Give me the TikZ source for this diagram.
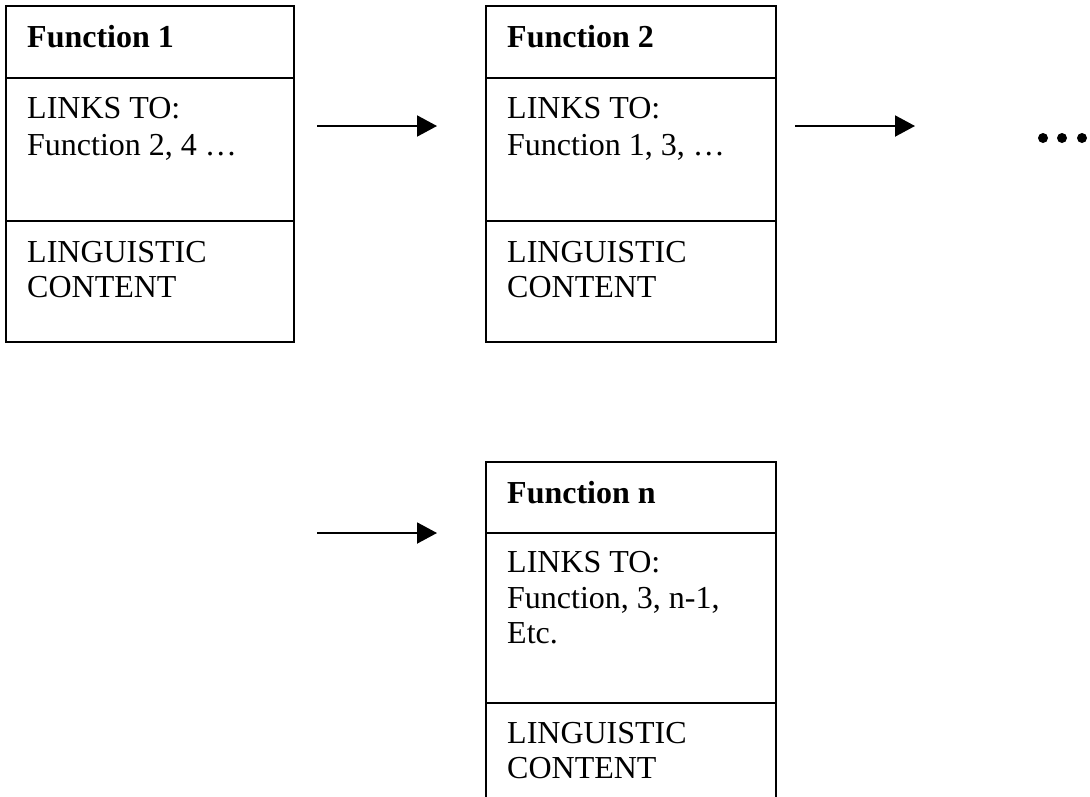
\documentclass[tikz,border=0pt]{standalone}
\usepackage{fontspec}
\setmainfont{Liberation Serif}
\usetikzlibrary{arrows.meta}
\tikzset{
  cell/.style={draw=black,line width=2pt},
  txt/.style={anchor=base west,inner sep=0pt,align=left,font=\fontsize{32}{37}\selectfont},
  ttl/.style={anchor=base west,inner sep=0pt,font=\fontsize{32}{37}\selectfont\bfseries},
  arr/.style={line width=2pt,-{Triangle[length=20pt,width=21pt]}},
  dot/.style={circle,fill=black,inner sep=0pt,minimum size=10pt}
}
\begin{document}
\begin{tikzpicture}[x=1pt,y=-1pt]
\useasboundingbox (0,0) rectangle (1090,796);
\clip (0,0) rectangle (1090,796);
% Box 1
\draw[cell] (6,6) rectangle (294,342);
\draw[cell] (6,78) -- (294,78);
\draw[cell] (6,221) -- (294,221);
\node[ttl] (t1) at (27,47) {Function 1};
\node[txt] (l1a) at (27,118) {LINKS TO:};
\node[txt] (l1b) at (27,155) {Function 2, 4 …};
\node[txt] (c1a) at (27,262) {LINGUISTIC};
\node[txt] (c1b) at (27,297) {CONTENT};
% Box 2
\draw[cell] (486,6) rectangle (776,342);
\draw[cell] (486,78) -- (776,78);
\draw[cell] (486,221) -- (776,221);
\node[ttl] (t2) at (507,47) {Function 2};
\node[txt] (l2a) at (507,118) {LINKS TO:};
\node[txt] (l2b) at (507,155) {Function 1, 3, …};
\node[txt] (c2a) at (507,262) {LINGUISTIC};
\node[txt] (c2b) at (507,297) {CONTENT};
% Box n
\draw[cell] (486,810) -- (486,462) -- (776,462) -- (776,810);
\draw[cell] (486,533) -- (776,533);
\draw[cell] (486,703) -- (776,703);
\node[ttl] (tn) at (507,503) {Function n};
\node[txt] (lna) at (507,572) {LINKS TO:};
\node[txt] (lnb) at (507,608) {Function, 3, n-1,};
\node[txt] (lnc) at (507,643) {Etc.};
\node[txt] (cna) at (507,743) {LINGUISTIC};
\node[txt] (cnb) at (507,778) {CONTENT};
% Arrows
\coordinate (a1s) at (317,126); \coordinate (a1e) at (437,126);
\coordinate (a2s) at (795,126); \coordinate (a2e) at (915,126);
\coordinate (a3s) at (317,533); \coordinate (a3e) at (437,533);
\draw[arr] (a1s) -- (a1e);
\draw[arr] (a2s) -- (a2e);
\draw[arr] (a3s) -- (a3e);
% Dots
\node[dot] (d1) at (1043,138) {};
\node[dot] (d2) at (1062,138) {};
\node[dot] (d3) at (1082,138) {};
\end{tikzpicture}
\end{document}
